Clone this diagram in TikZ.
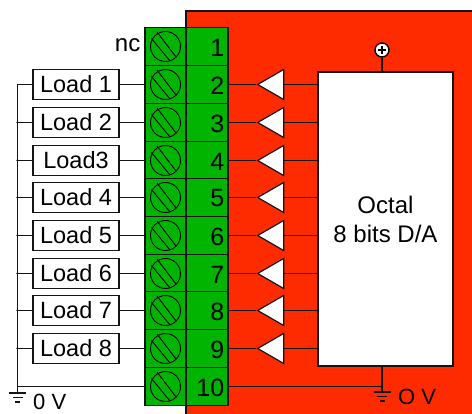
\documentclass[tikz,border=0pt]{standalone}
\usepackage{fontspec}
\setmainfont{Liberation Sans}
\usetikzlibrary{shapes.geometric,calc}
\definecolor{redbg}{HTML}{FF2B00}
\definecolor{termgreen}{HTML}{00B400}
\definecolor{wire}{HTML}{141414}
\tikzset{
  wireline/.style={draw=wire,line width=1.3pt},
  cellbox/.style={draw=wire,line width=1.2pt,fill=termgreen,minimum height=37.7pt,inner sep=0pt,anchor=center},
  loadbox/.style={draw=wire,line width=1.2pt,fill=white,minimum width=86pt,minimum height=30pt,inner sep=0pt,font=\fontsize{23.5}{26}\selectfont},
  numtext/.style={font=\fontsize{25}{28}\selectfont,inner sep=0pt,anchor=east},
  plaintext/.style={font=\fontsize{22}{26}\selectfont,inner sep=0pt},
  buffer/.style={draw=wire,line width=1.2pt,fill=white,isosceles triangle,isosceles triangle stretches=true,shape border rotate=180,minimum width=30pt,minimum height=26pt,inner sep=0pt},
  screw/.style={draw=black,line width=0.9pt,circle,minimum size=30pt,inner sep=0pt},
  dot/.style={circle,fill=wire,inner sep=0pt,minimum size=2.5pt},
}
\newcommand{\gnd}[1]{%
  \draw[wireline] ($(#1)+(-8.5,0)$) -- ($(#1)+(8.5,0)$);
  \draw[wireline] ($(#1)+(-5,4.5)$) -- ($(#1)+(5,4.5)$);
  \draw[wireline] ($(#1)+(-2.5,9)$) -- ($(#1)+(2.5,9)$);
}
\begin{document}
\begin{tikzpicture}[x=1pt,y=-1pt]
\useasboundingbox (0,0) rectangle (472,414);
\fill[redbg] (186,11) rectangle (472,414);
\draw[wireline] (186,414) -- (186,11) -- (472,11);
% terminal block
\foreach \i/\yy in {1/46.5,2/84.5,3/122.5,4/160.5,5/197.5,6/235.5,7/273.5,8/310.5,9/348.5,10/386.5}{
  \node[cellbox,minimum width=41pt] (scr\i) at (165.5,\yy) {};
  \node[cellbox,minimum width=42pt] (cell\i) at (207,\yy) {};
  \node[numtext] (num\i) at (224.5,\yy+1) {\i};
  \node[screw] (head\i) at (165.5,\yy) {};
  \draw[black,line width=0.9pt] ($(head\i)+(-8.5,-14.5)$) -- ($(head\i)+(10.5,10.5)$);
  \draw[black,line width=0.9pt] ($(head\i)+(-14,-8)$) -- ($(head\i)+(4.5,14.5)$);
}
\node[plaintext,font=\fontsize{24}{28}\selectfont,anchor=east] (nc) at (140.5,45) {nc};
% loads
\coordinate (busTop) at (17.5,84.5);
\coordinate (busEnd) at (17.5,393);
\foreach \i/\lab/\yy in {2/Load 1/84.5,3/Load 2/122.5,4/Load3/160.5,5/Load 4/197.5,6/Load 5/235.5,7/Load 6/273.5,8/Load 7/310.5,9/Load 8/348.5}{
  \node[loadbox] (load\i) at (76,\yy) {\lab};
  \draw[wireline] (load\i.east) -- (scr\i.west);
  \draw[wireline] (load\i.west) -- (load\i.west -| busTop);
}
\foreach \i in {3,...,9}{ \node[dot] (junc\i) at (load\i.west -| busTop) {}; }
\draw[wireline] (busTop) -- (busEnd);
\draw[wireline] (scr10.west) -- (scr10.west -| busTop);
\coordinate (gndL) at (busEnd);
\gnd{gndL}
\node[plaintext,anchor=west] (zeroL) at (33,402) {0 V};
% converter
\node[draw=wire,line width=1.2pt,fill=white,minimum width=135pt,minimum height=294pt,inner sep=0pt,align=center,font=\fontsize{24}{29}\selectfont] (dac) at (385.5,219) {Octal\\8 bits D/A};
\foreach \i/\yy in {2/84.5,3/122.5,4/160.5,5/197.5,6/235.5,7/273.5,8/310.5,9/348.5}{
  \node[buffer] (tri\i) at (275,\yy) {};
  \draw[wireline] (cell\i.east) -- (tri\i.apex);
  \draw[wireline] (tri\i) -- (tri\i -| dac.west);
}
% supply
\node[draw=black,line width=1.4pt,fill=white,circle,minimum size=14pt,inner sep=0pt] (plus) at (382,50) {};
\draw[black,line width=1.4pt] ($(plus)+(-4,0)$) -- ($(plus)+(4,0)$) ($(plus)+(0,-4)$) -- ($(plus)+(0,4)$);
\coordinate (dacTop) at (382,72);
\coordinate (gndR) at (382,392);
\draw[wireline] (plus) -- (dacTop);
\draw[wireline] (382,366) -- (gndR);
\draw[wireline] (cell10.east) -- (cell10.east -| gndR);
\gnd{gndR}
\node[plaintext,anchor=west] (zeroR) at (398,397) {O V};
\end{tikzpicture}
\end{document}
